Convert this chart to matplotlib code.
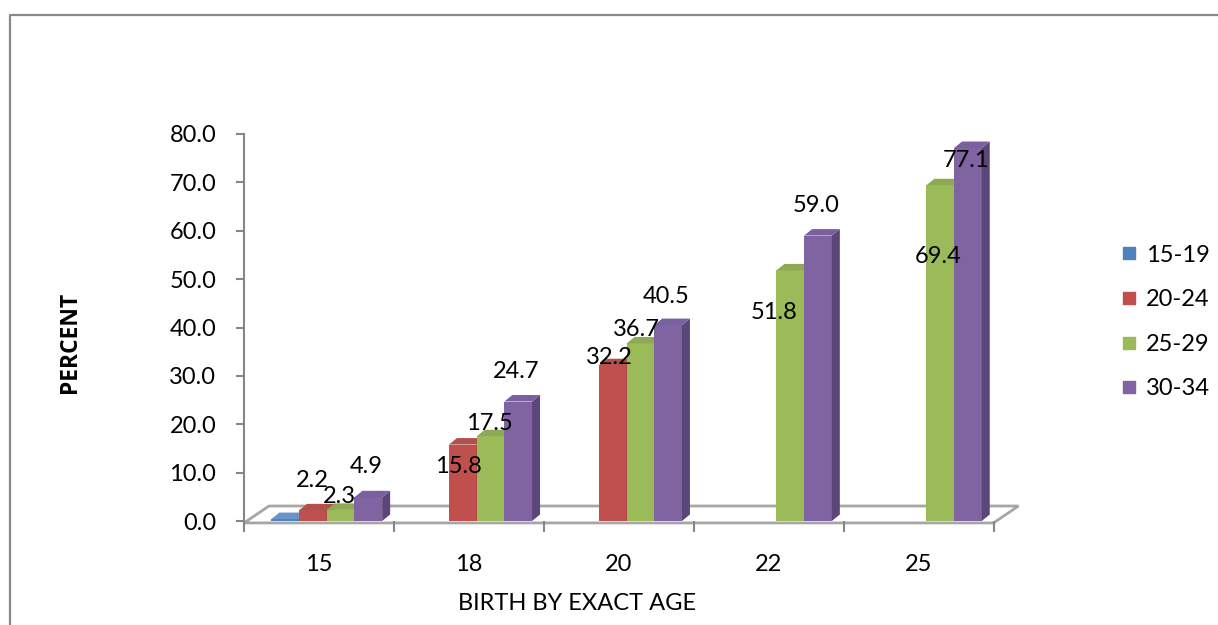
import numpy as np
import matplotlib.pyplot as plt
from matplotlib.patches import Polygon
from matplotlib.lines import Line2D

plt.rcParams['font.family'] = ['Lato', 'DejaVu Sans']

# data
ages = ['15', '18', '20', '22', '25']
groups = ['15-19', '20-24', '25-29', '30-34']
s1519 = [0.4, np.nan, np.nan, np.nan, np.nan]
s2024 = [2.2, 15.8, 32.2, np.nan, np.nan]
s2529 = [2.3, 17.5, 36.7, 51.8, 69.4]
s3034 = [4.9, 24.7, 40.5, 59.0, 77.1]
series = [s1519, s2024, s2529, s3034]

front = ['#4F81BD', '#C0504D', '#9BBB59', '#8064A2']
side = ['#375E8E', '#8C3A38', '#6F8A3E', '#5A4678']
top = ['#6A95C8', '#B2504D', '#8DAA52', '#7A60A0']

# label offsets in pixels (dx, dy) from the bar top - Excel placed them oddly
lab_off = [
    [None] * 5,
    [(-1, 30), (-4, -22), (-3, 8), None, None],
    [(-1, 13), (-1, 13), (-4, 14), (-16, -42), (-2, -71)],
    [(-2, 31), (-2, 30), (-2, 29), (-2, 30), (-1.5, -12)],
]
show_label = [False, True, True, True]

fig = plt.figure(figsize=(12.18, 6.25), dpi=100)
ax = fig.add_axes([244 / 1218, 1 - 521 / 625, 749.5 / 1218, 387 / 625])
ax.set_xlim(-0.5, 4.5)
ax.set_ylim(0, 80)

# pixel -> data scale for the fake 3d depth
px_x = 5 / 749.5
px_y = 80 / 387
dx, dy = 8 * px_x, 6.5 * px_y
fdx, fdy = 25 * px_x, 15 * px_y
w = 27.7 * px_x
x = np.arange(len(ages))

# floor
ax.add_patch(Polygon([(-0.5, -0.4), (4.5, -0.4), (4.5 + fdx, fdy), (-0.5 + fdx, fdy)],
                     closed=True, facecolor='white', edgecolor='#A6A6A6', lw=2,
                     clip_on=False, zorder=1))

for k, vals in enumerate(series):
    xs = x + 0.052 + (k - 1.5) * w
    v = np.array(vals)
    ok = ~np.isnan(v)
    ax.bar(xs[ok], v[ok], width=w, color=front[k], zorder=3 + k, align='center')
    for xi, vi in zip(xs[ok], v[ok]):
        r = xi + w / 2
        l = xi - w / 2
        ax.add_patch(Polygon([(r, 0), (r + dx, dy), (r + dx, vi + dy), (r, vi)],
                             closed=True, facecolor=side[k], edgecolor='none', zorder=3 + k))
        ax.add_patch(Polygon([(l, vi), (l + dx, vi + dy), (r + dx, vi + dy), (r, vi)],
                             closed=True, facecolor=top[k], edgecolor='none', zorder=3 + k))
    if show_label[k]:
        for i in np.where(ok)[0]:
            off = lab_off[k][i]
            ax.annotate(f'{v[i]:.1f}', (xs[i], v[i]), xytext=off, textcoords='offset pixels',
                        ha='center', va='center', fontsize=17, zorder=10)

# axes styling
for s in ['top', 'right', 'bottom']:
    ax.spines[s].set_visible(False)
ax.spines['left'].set_color('#868686')
ax.spines['left'].set_linewidth(1.5)
ax.set_yticks(np.arange(0, 81, 10))
ax.set_yticklabels([f'{t:.1f}' for t in np.arange(0, 81, 10)])
ax.tick_params(axis='y', length=6, width=1.5, color='#868686', pad=14, labelsize=17)
ax.set_xticks(x)
ax.set_xticklabels(ages)
ax.set_xticks(np.arange(-0.5, 4.6, 1), minor=True)
ax.tick_params(axis='x', which='major', length=0, pad=24, labelsize=17)
ax.tick_params(axis='x', which='minor', length=8, width=1.5, color='#868686')

fig.text(70 / 1218, 1 - 342 / 625, 'PERCENT', rotation=90, ha='center', va='center',
         fontsize=16.5, fontweight='bold', family=['Open Sans', 'DejaVu Sans'])
fig.text(577 / 1218, 1 - 603 / 625, 'BIRTH BY EXACT AGE', ha='center', va='center',
         fontsize=17)

handles = [Line2D([], [], marker='s', ls='none', color=c, markersize=8) for c in front]
fig.legend(handles, groups, loc='center left', bbox_to_anchor=(1101 / 1218, 1 - 322 / 625),
           frameon=False, fontsize=17, handlelength=0.6, handletextpad=0.4,
           labelspacing=1.0)

# outer chart border
fig.add_artist(Line2D([10 / 1218, 10 / 1218, 1], [0, 1 - 15 / 625, 1 - 15 / 625],
                      color='#898989', lw=1.6, transform=fig.transFigure))

fig.savefig('out.png', dpi=100)
